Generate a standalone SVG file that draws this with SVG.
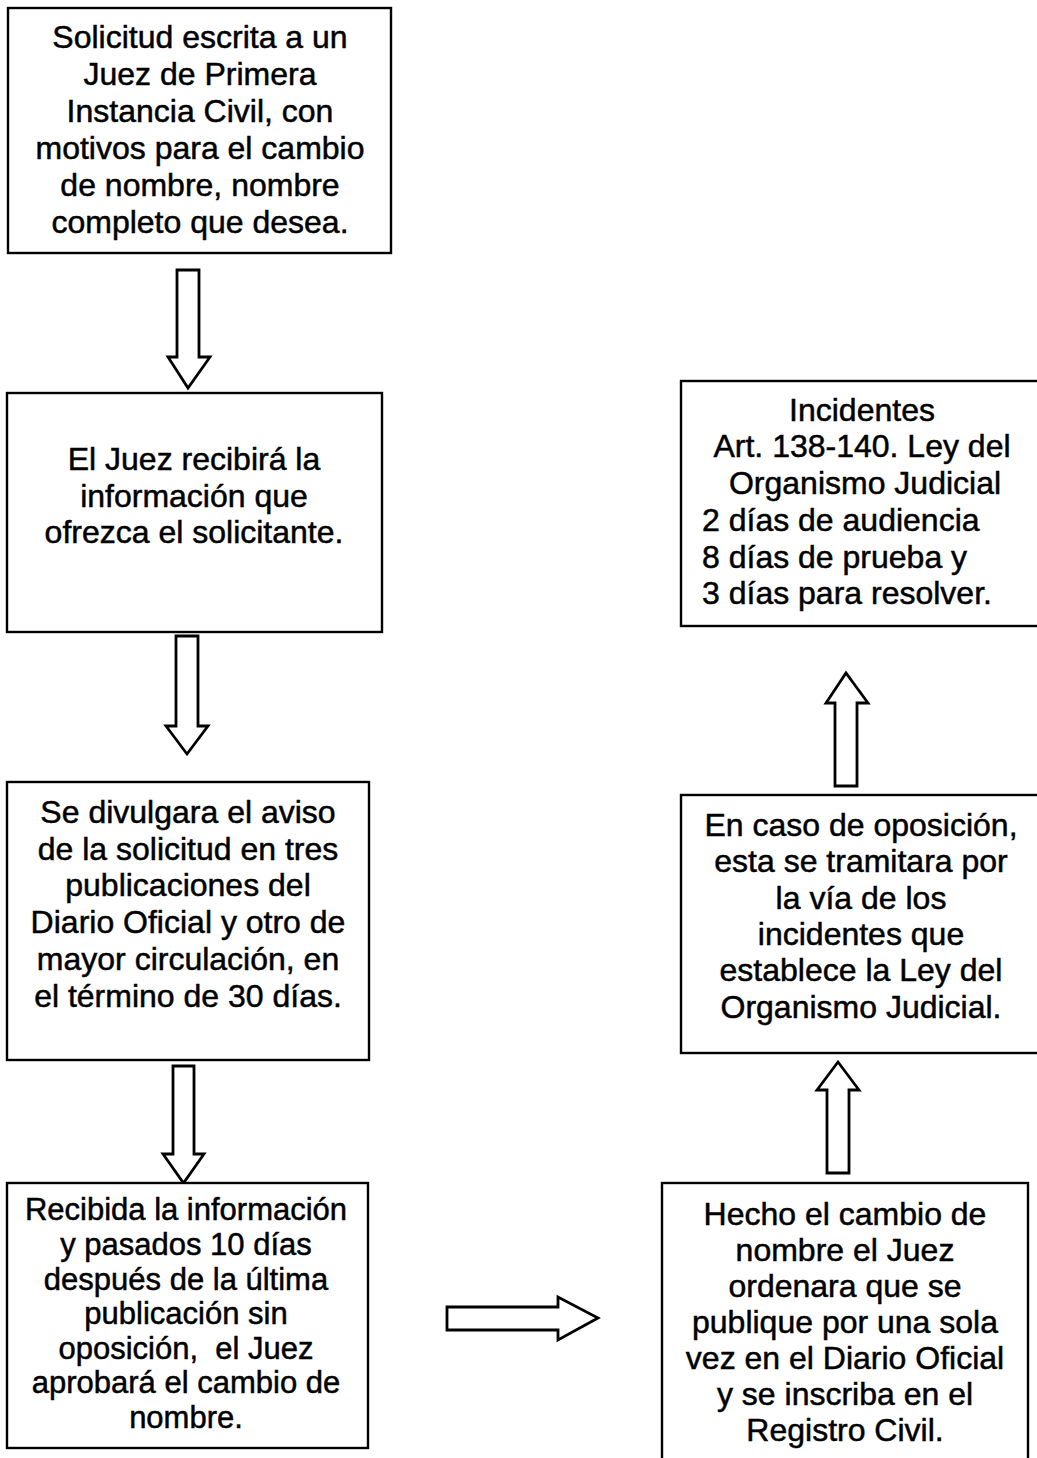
<svg xmlns="http://www.w3.org/2000/svg" width="1037" height="1458" viewBox="0 0 1037 1458">
<style>
.box{fill:#fff;stroke:#000;stroke-width:2.4}
.arr{fill:#fff;stroke:#000;stroke-width:2.8;stroke-linejoin:miter}
.t{font-family:"Liberation Sans",Arial,sans-serif;font-size:32px;fill:#000;stroke:#000;stroke-width:0.5;text-anchor:middle;white-space:pre}
.s{font-size:31px}
.l{text-anchor:start}
</style>
<rect width="1037" height="1458" fill="#fff"/>
<g id="connectors">
<polygon class="arr" points="177,270 199,270 199,357 210,357 188,388 168,357 177,357"/>
<polygon class="arr" points="176,636 198,636 198,726 208,726 187,754 166,726 176,726"/>
<polygon class="arr" points="173,1066 194,1066 194,1154 204,1154 183.5,1183 163,1154 173,1154"/>
<polygon class="arr" points="447,1307 558,1307 558,1297 598,1318 558,1340 558,1330 447,1330"/>
<polygon class="arr" points="827,1173 849,1173 849,1090 859,1090 838,1062 817,1090 827,1090"/>
<polygon class="arr" points="835,786 857,786 857,703 868,703 846,673 826,703 835,703"/>
</g>
<g id="n1">
<rect class="box" x="8" y="8" width="383" height="245"/>
<text class="t" x="200" y="48">Solicitud escrita a un</text>
<text class="t" x="200" y="85">Juez de Primera</text>
<text class="t" x="200" y="122">Instancia Civil, con</text>
<text class="t" x="200" y="159">motivos para el cambio</text>
<text class="t" x="200" y="196">de nombre, nombre</text>
<text class="t" x="200" y="233">completo que desea.</text>
</g>
<g id="n2">
<rect class="box" x="7" y="393" width="375" height="239"/>
<text class="t" x="194" y="470">El Juez recibirá la</text>
<text class="t" x="194" y="507">información que</text>
<text class="t" x="194" y="543">ofrezca el solicitante.</text>
</g>
<g id="n3">
<rect class="box" x="7" y="782" width="362" height="278"/>
<text class="t" x="188" y="823">Se divulgara el aviso</text>
<text class="t" x="188" y="860">de la solicitud en tres</text>
<text class="t" x="188" y="896">publicaciones del</text>
<text class="t" x="188" y="933">Diario Oficial y otro de</text>
<text class="t" x="188" y="970">mayor circulación, en</text>
<text class="t" x="188" y="1007">el término de 30 días.</text>
</g>
<g id="n4">
<rect class="box" x="7" y="1183" width="361" height="265"/>
<text class="t s" x="186" y="1220">Recibida la información</text>
<text class="t s" x="186" y="1255">y pasados 10 días</text>
<text class="t s" x="186" y="1290">después de la última</text>
<text class="t s" x="186" y="1324">publicación sin</text>
<text class="t s" x="186" y="1359" xml:space="preserve">oposición,  el Juez</text>
<text class="t s" x="186" y="1393">aprobará el cambio de</text>
<text class="t s" x="186" y="1428">nombre.</text>
</g>
<g id="n5">
<rect class="box" x="662" y="1183" width="366" height="290"/>
<text class="t" x="845" y="1225">Hecho el cambio de</text>
<text class="t" x="845" y="1261">nombre el Juez</text>
<text class="t" x="845" y="1297">ordenara que se</text>
<text class="t" x="845" y="1333">publique por una sola</text>
<text class="t" x="845" y="1369">vez en el Diario Oficial</text>
<text class="t" x="845" y="1405">y se inscriba en el</text>
<text class="t" x="845" y="1441">Registro Civil.</text>
</g>
<g id="n6">
<rect class="box" x="681" y="795" width="360" height="258"/>
<text class="t" x="861" y="836">En caso de oposición,</text>
<text class="t" x="861" y="872">esta se tramitara por</text>
<text class="t" x="861" y="909">la vía de los</text>
<text class="t" x="861" y="945">incidentes que</text>
<text class="t" x="861" y="981">establece la Ley del</text>
<text class="t" x="861" y="1018">Organismo Judicial.</text>
</g>
<g id="n7">
<rect class="box" x="681" y="381" width="360" height="245"/>
<text class="t" x="862" y="421">Incidentes</text>
<text class="t" x="862" y="457">Art. 138-140. Ley del</text>
<text class="t" x="865" y="494">Organismo Judicial</text>
<text class="t l" x="702" y="531">2 días de audiencia</text>
<text class="t l" x="702" y="568">8 días de prueba y</text>
<text class="t l" x="702" y="604">3 días para resolver.</text>
</g>
</svg>
